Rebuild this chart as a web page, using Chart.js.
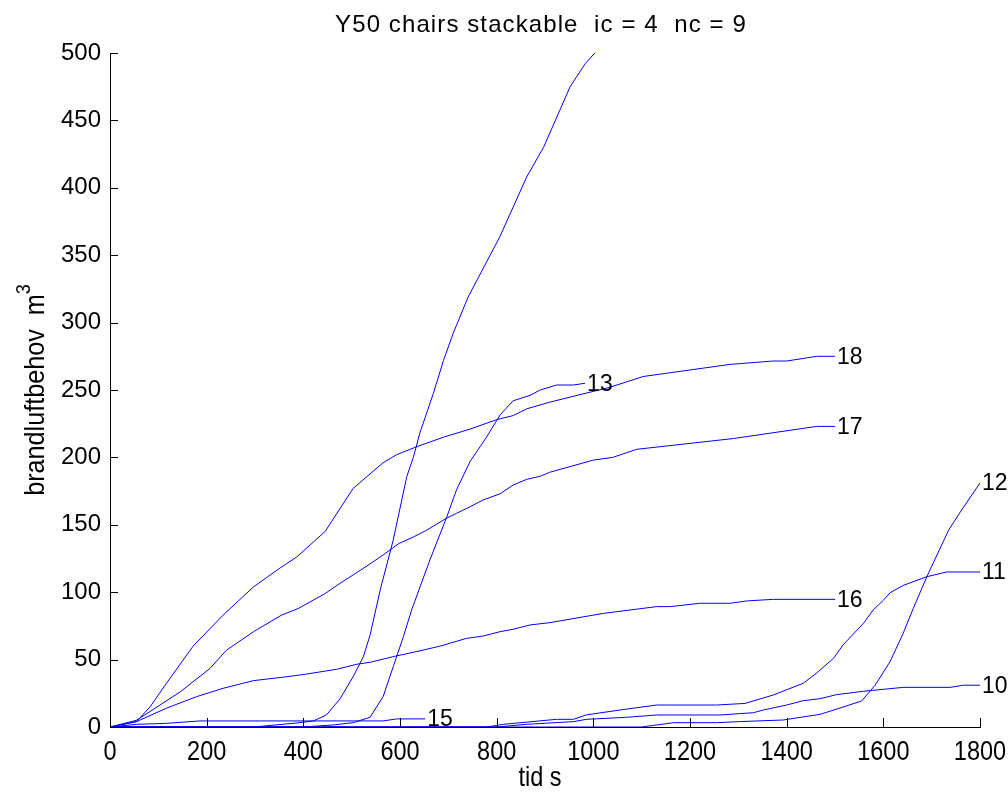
<!DOCTYPE html>
<html>
<head>
<meta charset="utf-8">
<script src="https://cdn.jsdelivr.net/npm/chart.js@4.4.1/dist/chart.umd.min.js"></script>
<style>
  html, body { margin: 0; padding: 0; background: #fff; }
  #wrap { width: 1008px; height: 796px; }
</style>
</head>
<body>
<div id="wrap"><canvas id="c" width="1008" height="796"></canvas></div>
<script>
// tick values
const xTicks = [0, 200, 400, 600, 800, 1000, 1200, 1400, 1600, 1800];
const yTicks = [0, 50, 100, 150, 200, 250, 300, 350, 400, 450, 500];

// curves (tid s / m3)
const t10 = [0, 800, 862, 959, 986, 1069, 1131, 1262, 1331, 1352, 1400, 1434, 1469, 1503, 1559, 1641, 1738, 1766, 1800];
const v10 = [0, 0, 2, 4, 5.7, 7.2, 8.9, 8.9, 10.6, 12.6, 16.3, 19.5, 21, 24, 26.5, 29.4, 29.4, 31, 31];

const t11 = [0, 780, 814, 924, 959, 986, 1055, 1131, 1255, 1314, 1372, 1434, 1462, 1497, 1517, 1559, 1579, 1600, 1614, 1641, 1690, 1731, 1800];
const v11 = [0, 0, 2, 5.7, 5.7, 9, 12.6, 16.3, 16.3, 17.5, 23.7, 32.4, 40, 51, 61, 77, 86.8, 94, 99.6, 105, 111.5, 115, 115];

const t12 = [0, 1100, 1166, 1255, 1303, 1393, 1469, 1510, 1555, 1583, 1614, 1641, 1662, 1690, 1735, 1762, 1800];
const v12 = [0, 0, 3.2, 3.2, 4, 5.2, 9.4, 14, 19.3, 31, 48.5, 69.5, 88, 111.5, 146, 161, 181];

const t13 = [0, 400, 462, 503, 538, 565, 586, 607, 624, 662, 697, 717, 745, 779, 807, 834, 869, 890, 924, 959, 983];
const v13 = [0, 0, 1.5, 3.2, 7.2, 22.5, 44.7, 67, 86.8, 124, 156, 176, 197, 215, 231.5, 242, 246, 250, 253.7, 253.7, 255];

const t14 = [0, 297, 393, 421, 448, 476, 503, 524, 538, 559, 586, 614, 628, 641, 669, 690, 710, 741, 807, 862, 897, 952, 983, 1003];
const v14 = [0, 0, 3.2, 4.5, 9, 21, 37.3, 52, 68, 101.6, 138.7, 185.7, 200.5, 218, 247.5, 272, 292, 319, 364, 408, 430, 475, 492, 500];

const t15 = [0, 55, 117, 186, 565, 593, 652];
const v15 = [0, 2, 2.7, 4.5, 4.5, 6, 6];

const t16 = [0, 55, 117, 179, 234, 297, 366, 407, 469, 510, 538, 586, 635, 683, 738, 772, 807, 834, 869, 910, 1021, 1131, 1159, 1221, 1283, 1317, 1372, 1500];
const v16 = [0, 4, 14, 22.5, 28.7, 34.4, 37.3, 39.3, 42.8, 46.5, 48, 52.2, 56, 60, 65.8, 67.5, 70.7, 72.5, 75.7, 77.4, 84.3, 89.3, 89.3, 91.8, 91.8, 93.5, 94.7, 94.7];

const t17 = [0, 55, 145, 207, 241, 297, 355, 390, 445, 476, 503, 538, 565, 597, 628, 655, 697, 717, 745, 772, 807, 834, 862, 890, 910, 1000, 1040, 1090, 1290, 1462, 1500];
const v17 = [0, 5, 26, 43.5, 57, 70.7, 83, 88, 99, 106.6, 112.8, 121, 127.6, 136, 141, 146, 155, 158.5, 163.4, 168.4, 173, 179.5, 183.7, 186, 189, 198, 200, 206, 214, 223, 223];

const t18 = [0, 55, 83, 114, 172, 234, 297, 352, 386, 445, 503, 565, 593, 635, 690, 745, 800, 834, 862, 910, 1034, 1103, 1283, 1372, 1400, 1462, 1500];
const v18 = [0, 4, 15, 31, 60, 83, 104, 118, 126, 145, 177, 196, 202, 208, 215, 221, 228, 231, 236, 241, 252, 260, 269, 271.5, 271.5, 275, 275];

const curveLabels = ['10', '11', '12', '13', null, '15', '16', '17', '18'];
const curveT = [t10, t11, t12, t13, t14, t15, t16, t17, t18];
const curveV = [v10, v11, v12, v13, v14, v15, v16, v17, v18];

const SANS = "'Liberation Sans', Arial, sans-serif";

const datasets = curveT.map((ts, i) => ({
  label: curveLabels[i] || '14',
  data: ts.map((t, k) => ({ x: t, y: curveV[i][k] })),
  borderColor: '#0000ff',
  borderWidth: 1,
  pointRadius: 0,
  tension: 0,
  fill: false
}));

// smal text: ritas med horisontell skalning
function narrowText(ctx, txt, x, y, sx) {
  ctx.save();
  ctx.translate(x, y);
  ctx.scale(sx, 1);
  ctx.fillText(txt, 0, 0);
  ctx.restore();
}

// titel, axeltitlar, x-etiketter, inåtvända streck och kurvnummer
const decor = {
  id: 'decor',
  afterDraw(chart) {
    const { ctx, chartArea: a, scales: { x, y } } = chart;
    ctx.save();
    ctx.strokeStyle = '#000';
    ctx.lineWidth = 1;
    ctx.beginPath();
    xTicks.forEach(v => {
      const px = Math.round(x.getPixelForValue(v)) + 0.5;
      ctx.moveTo(px, a.bottom);
      ctx.lineTo(px, a.bottom - 9);
    });
    yTicks.forEach(v => {
      const py = Math.round(y.getPixelForValue(v)) + 0.5;
      ctx.moveTo(a.left, py);
      ctx.lineTo(a.left + 8, py);
    });
    ctx.stroke();

    ctx.fillStyle = '#000';
    // x tick labels
    ctx.font = '28px ' + SANS;
    ctx.textAlign = 'center';
    ctx.textBaseline = 'alphabetic';
    x.ticks.forEach(tk => {
      narrowText(ctx, String(tk.value), x.getPixelForValue(tk.value), a.bottom + 33, 0.84);
    });

    // title
    ctx.font = '24px ' + SANS;
    ctx.letterSpacing = '1.1px';
    ctx.fillText('Y50 chairs stackable  ic = 4  nc = 9', 541, 32);
    ctx.letterSpacing = '0px';

    // x title
    ctx.font = '28px ' + SANS;
    narrowText(ctx, 'tid s', 540, 786, 0.84);

    // y title with superscript
    ctx.save();
    ctx.translate(44, (a.top + a.bottom) / 2);
    ctx.rotate(-Math.PI / 2);
    ctx.scale(0.9, 1);
    ctx.font = '28px ' + SANS;
    const main = 'brandluftbehov  m';
    const w = ctx.measureText(main).width;
    ctx.font = '20px ' + SANS;
    const ws = ctx.measureText('3').width;
    const x0 = -(w + ws) / 2;
    ctx.textAlign = 'left';
    ctx.font = '28px ' + SANS;
    ctx.fillText(main, x0, 0);
    ctx.font = '20px ' + SANS;
    ctx.fillText('3', x0 + w, -14);
    ctx.restore();

    // curve numbers at line ends
    ctx.font = '23px ' + SANS;
    ctx.textAlign = 'left';
    ctx.textBaseline = 'middle';
    curveLabels.forEach((lab, i) => {
      if (!lab) return;
      const ts = curveT[i], vs = curveV[i];
      const px = x.getPixelForValue(ts[ts.length - 1]);
      const py = y.getPixelForValue(vs[vs.length - 1]);
      ctx.fillText(lab, px + 2, py + 1);
    });
    ctx.restore();
  }
};

new Chart(document.getElementById('c'), {
  type: 'line',
  data: { datasets },
  options: {
    responsive: false,
    animation: false,
    events: [],
    layout: { padding: { left: 0, right: 28, top: 53, bottom: 0 } },
    plugins: { legend: { display: false }, tooltip: { enabled: false }, title: { display: false } },
    scales: {
      x: {
        type: 'linear',
        min: 0, max: 1800,
        afterFit(s) { s.height = 69; },
        afterBuildTicks(s) { s.ticks = xTicks.map(v => ({ value: v })); },
        grid: { drawOnChartArea: false, drawTicks: false },
        border: { display: true, color: '#000', width: 1 },
        ticks: { display: false }
      },
      y: {
        type: 'linear',
        min: 0, max: 500,
        afterFit(s) { s.width = 110; },
        afterBuildTicks(s) { s.ticks = yTicks.map(v => ({ value: v })); },
        grid: { drawOnChartArea: false, drawTicks: false },
        border: { display: true, color: '#000', width: 1 },
        ticks: { color: '#000', padding: 9, font: { family: SANS, size: 24 } }
      }
    }
  },
  plugins: [decor]
});
</script>
</body>
</html>
